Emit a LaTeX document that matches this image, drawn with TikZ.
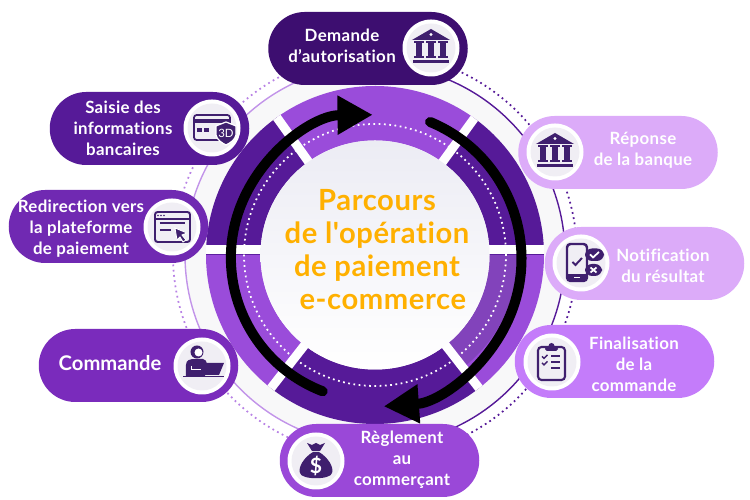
\documentclass[tikz,border=0pt]{standalone}
\usepackage{fontspec}
\setmainfont{Lato}
\newfontfamily\titlefont{Lato}[Ligatures=NoCommon]
\usepackage{xcolor}
\usetikzlibrary{arrows.meta}
\usetikzlibrary{positioning,calc}
\definecolor{ringdark}{HTML}{561A98}
\definecolor{ringlight}{HTML}{9A4CDA}
\definecolor{ringshade}{HTML}{8243BB}
\definecolor{icondark}{HTML}{3F1F6E}
\definecolor{demandecol}{HTML}{3D0E70}
\definecolor{saisiecol}{HTML}{561A98}
\definecolor{redircol}{HTML}{7029B2}
\definecolor{commandecol}{HTML}{7A2BBC}
\definecolor{reglementcol}{HTML}{9A48D8}
\definecolor{finalcol}{HTML}{C47CFA}
\definecolor{reponsecol}{HTML}{DCABF9}
\definecolor{titlecol}{HTML}{FFB000}
\definecolor{disctop}{HTML}{ECECF4}
\definecolor{discback}{HTML}{F8F8F9}
\definecolor{iconback}{HTML}{F0EEF4}
\tikzset{
    pill/.style={
        minimum width=3.99cm,
        minimum height=1.46cm,
        rounded corners=0.73cm,
        inner sep=0pt
    },
    iconcircle/.style={
        circle,
        fill=white,
        minimum size=1.14cm,
        inner sep=0pt
    },
    icondisc/.style={
        circle,
        fill=iconback,
        minimum size=0.98cm,
        inner sep=0pt
    },
    pilltext/.style={
        text=white,
        align=center,
        inner sep=0pt,
        font=\titlefont\bfseries\fontsize{9.6}{11.95}\selectfont\addfontfeature{LetterSpace=2}
    },
    iconpx/.style={x=0.02cm,y=-0.02cm},
    bigarrow/.style={
        line width=5.7pt,
        line cap=round,
        -{Triangle[length=20pt,width=21pt]}
    },
    gapline/.style={white,line width=5.1pt},
    bankicon/.pic={
        \fill[icondark] (-19,-8) -- (0,-19) -- (19,-8) -- cycle;
        \fill[white] (0,-13.5) circle (1.6);
        \foreach \cx in {-12,0,12}{
            \fill[icondark] (\cx-2.8,-6) rectangle (\cx+2.8,10);
            \fill[icondark] (\cx-5,-6.5) rectangle (\cx+5,-4.5);
            \fill[icondark] (\cx-5,8.5) rectangle (\cx+5,10.5);
        }
        \fill[icondark] (-18,12) rectangle (18,15.5);
    },
    cardicon/.pic={
        \draw[icondark,line width=1pt,rounded corners=1.5pt] (-18,-13) rectangle (18,12);
        \fill[icondark] (-18,-9) rectangle (18,-5);
        \fill[icondark] (-15,0) rectangle (-10,4);
        \fill[icondark] (-8,0) rectangle (-3,4);
        \fill[icondark,draw=white,line width=0.7pt] (4,-2) -- (14,-6) -- (24,-2) -- (24,7) .. controls (23,12) and (18,15) .. (14,17) .. controls (10,15) and (5,12) .. (4,7) -- cycle;
        \node[text=white,inner sep=0pt,font=\fontsize{6.5}{7}\selectfont] (threed) at (14,5) {3D};
    },
    browsericon/.pic={
        \draw[icondark,line width=1.1pt,rounded corners=1.5pt] (-17,-15) rectangle (18,15);
        \draw[icondark,line width=1.1pt] (-17,-8) -- (18,-8);
        \foreach \cx in {-14,-11,-8}{
            \fill[icondark] (\cx,-11.5) circle (0.8);
        }
        \draw[icondark,line width=1pt] (-12,-4) -- (13,-4);
        \draw[icondark,line width=1pt] (-12,3) -- (-1,3);
        \fill[icondark,draw=white,line width=0.5pt] (3,1) -- (15,6) -- (10,8) -- (14,13) -- (11,15) -- (8,10) -- (5,13) -- cycle;
    },
    usericon/.pic={
        \fill[icondark] (-5,-14) circle (6.5);
        \fill[white] (-3.5,-13.5) circle (4);
        \fill[icondark] (-16,10) -- (-16,-1) .. controls (-16,-6) and (-12,-7) .. (-7,-7) -- (1,-7) .. controls (3,-7) and (5,-5) .. (5,0) -- (3,10) -- cycle;
        \draw[white,line width=0.4pt] (-11,0) -- (-11,3) -- (-1,3);
        \fill[icondark] (3,-3) -- (22,-3) -- (17,9) -- (-2,9) -- cycle;
        \fill[icondark] (-19,10) rectangle (22,11.5);
    },
    phoneicon/.pic={
        \draw[icondark,line width=1.4pt,rounded corners=2pt] (-14,-19) rectangle (6,18);
        \fill[icondark] (-14,11) rectangle (6,18);
        \fill[white] (-7,13.8) rectangle (-1,15.2);
        \draw[icondark,line width=1.1pt] (-8.5,-1) -- (-5.5,2) -- (1,-5);
        \fill[icondark,rounded corners=4pt] (4,-14.5) rectangle (23,-2);
        \fill[icondark,rounded corners=4pt] (4,1) rectangle (21,13);
        \draw[white,line width=1pt] (9,-8.5) -- (12,-5.5) -- (18,-11);
        \draw[white,line width=1pt] (9.5,4.5) -- (15.5,9.5) (15.5,4.5) -- (9.5,9.5);
    },
    listicon/.pic={
        \draw[icondark,line width=1.2pt,rounded corners=2pt] (-14,-15) rectangle (13,18);
        \fill[icondark,rounded corners=1pt] (-7,-15) rectangle (6,-11);
        \fill[icondark] (-0.5,-16) circle (3);
        \draw[icondark,line width=0.8pt] (-10,-5.5) -- (-8,-3.5) -- (-4.5,-7);
        \draw[icondark,line width=0.8pt] (-10,1) -- (-8,3) -- (-4.5,-0.5);
        \foreach \cy in {-6,0,6}{
            \draw[icondark,line width=1pt] (-1,\cy) -- (8,\cy);
        }
    },
    bagicon/.pic={
        \fill[icondark] (-3,-9) .. controls (-13,-3) and (-18,7) .. (-16,12) .. controls (-15,19) and (15,19) .. (16,12) .. controls (18,7) and (13,-3) .. (3,-9) -- cycle;
        \fill[icondark] (-9,-18) -- (-4,-16) -- (0,-18) -- (4,-16) -- (9,-18) -- (4,-10) -- (-4,-10) -- cycle;
        \node[text=white,inner sep=0pt,font=\bfseries\fontsize{12}{12}\selectfont] (dollar) at (0,5) {\$};
    }
}

\begin{document}
\begin{tikzpicture}
    \useasboundingbox (0,0) rectangle (15,10);
    \coordinate (O) at (7.5,4.9);

    % Background disc and outer circles
    \fill[discback] (O) circle (3.8);
    \draw[ringdark,line width=0.8pt] ($(O)+(90:3.8)$) arc (90:-90:3.8);
    \draw[ringlight!60,line width=0.8pt] ($(O)+(90:3.8)$) arc (90:270:3.8);
    \draw[ringdark,line width=1pt,dotted] ($(O)+(90:4.04)$) arc (90:-90:4.04);
    \draw[ringlight!70,line width=1pt,dotted] ($(O)+(90:4.04)$) arc (90:270:4.04);

    % Ring segments
    \foreach \from/\to/\col in {54/125.5/ringlight,125.5/180/ringdark,180/232/ringlight,232/308/ringdark,308/360/ringlight,0/54/ringdark}{
        \fill[\col] ($(O)+(\from:3.38)$) arc (\from:\to:3.38) -- ($(O)+(\to:2.2)$) arc (\to:\from:2.2) -- cycle;
    }
    \fill[ringshade] ($(O)+(308:2.86)$) arc (308:360:2.86) -- ($(O)+(0:2.2)$) arc (0:-52:2.2) -- cycle;

    % White gaps between the segments
    \foreach \ang in {54,125.5,232,308}{
        \draw[gapline] (O) -- ($(O)+(\ang:3.38)$);
    }
    \draw[gapline] (4.12,5.01) -- (10.88,5.01);

    % Inner disc
    \fill[white] (O) circle (2.29);
    \shade[top color=disctop,bottom color=white] (O) circle (2.29);
    \draw[white,line width=1pt,dotted] (O) circle (2.62);

    % Black arrows
    \draw[bigarrow] ($(O)+(249:2.92)$) arc (249:90.5:2.86);
    \draw[bigarrow] ($(O)+(67.5:2.88)$) arc (67.5:-86:2.96);

    % Title
    \node[text=titlecol,align=center,inner sep=0pt,font=\titlefont\bfseries\fontsize{16.6}{18.8}\selectfont\addfontfeature{LetterSpace=2}] (title) at (7.54,5.0) {Parcours\\de l'opération\\de paiement\\\hspace*{0.4em}e-commerce};

    % Pills
    \node[pill,fill=demandecol] (demande) at (7.36,9.03) {};
    \node[pill,fill=saisiecol] (saisie) at (2.99,7.43) {};
    \node[pill,fill=redircol] (redirection) at (2.17,5.47) {};
    \node[pill,fill=commandecol] (commande) at (2.77,2.69) {};
    \node[pill,fill=reglementcol] (reglement) at (7.59,0.79) {};
    \node[pill,fill=finalcol] (finalisation) at (12.29,2.77) {};
    \node[pill,fill=reponsecol] (notification) at (12.89,4.73) {};
    \node[pill,fill=reponsecol] (reponse) at (12.36,6.95) {};

    % Icon circles
    \foreach \name/\px/\py in {demande/8.62/9.04,saisie/4.24/7.44,redirection/3.44/5.46,commande/4.04/2.68,reglement/6.32/0.78,finalisation/11.04/2.76,notification/11.62/4.74,reponse/11.10/6.96}{
        \node[iconcircle] (\name icon) at (\px,\py) {};
        \node[icondisc] (\name disc) at (\px,\py) {};
    }
    \pic[iconpx] at (demandeicon) {bankicon};
    \pic[iconpx] at (saisieicon) {cardicon};
    \pic[iconpx] at (redirectionicon) {browsericon};
    \pic[iconpx] at (commandeicon) {usericon};
    \pic[iconpx] at (reglementicon) {bagicon};
    \pic[iconpx] at (finalisationicon) {listicon};
    \pic[iconpx] at (notificationicon) {phoneicon};
    \pic[iconpx] at (reponseicon) {bankicon};

    % Pill texts
    \node[pilltext] (demandetxt) at (6.84,9.09) {Demande\\d’autorisation};
    \node[pilltext] (saisietxt) at (2.46,7.44) {Saisie des\\informations\\bancaires};
    \node[pilltext] (redirectiontxt) at (1.62,5.42) {Redirection vers\\la plateforme\\de paiement};
    \node[pilltext,font=\titlefont\bfseries\fontsize{11.5}{12}\selectfont] (commandetxt) at (2.20,2.74) {Commande};
    \node[pilltext] (reglementtxt) at (8.04,0.80) {Règlement\\au\\commerçant};
    \node[pilltext] (reponsetxt) at (12.86,6.99) {Réponse\\de la banque};
    \node[pilltext] (notificationtxt) at (13.26,4.69) {Notification\\du résultat};
    \node[pilltext] (finalisationtxt) at (12.68,2.72) {Finalisation\\de la\\commande};
\end{tikzpicture}
\end{document}
